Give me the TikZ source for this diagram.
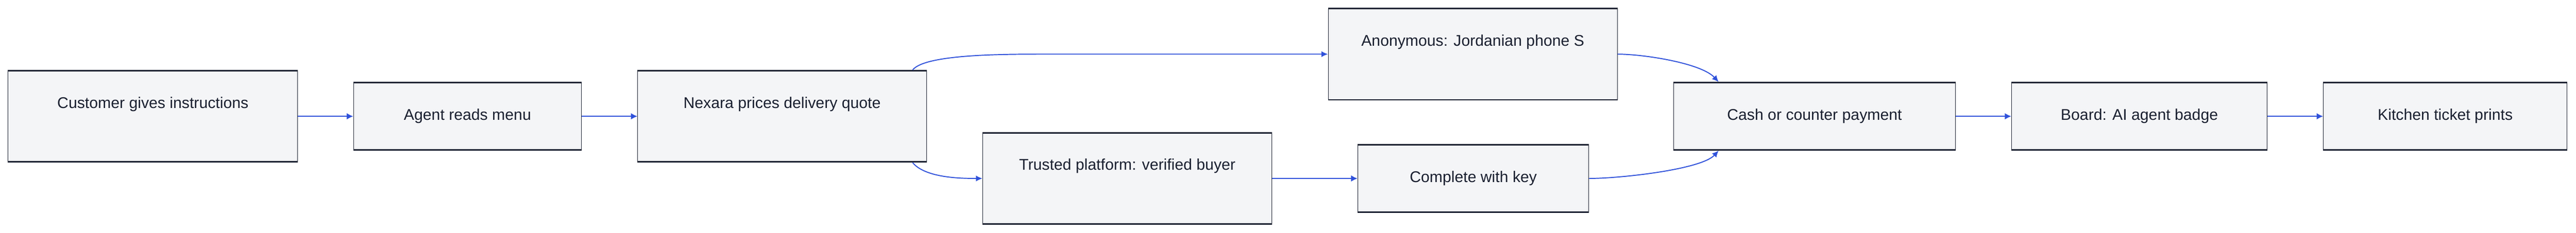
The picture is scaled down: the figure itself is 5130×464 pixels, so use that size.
\documentclass[tikz,border=0pt]{standalone}
\usepackage{fontspec}
\setmainfont{Liberation Sans}
\usetikzlibrary{arrows.meta}
\definecolor{boxfill}{HTML}{F4F5F7}
\definecolor{boxline}{HTML}{1A2030}
\definecolor{arr}{HTML}{2F51DA}
\begin{document}
\begin{tikzpicture}[x=1pt,y=-1pt,
  box/.style={fill=boxfill,draw=boxline,line width=1pt,inner sep=0pt,
    path picture={\draw[boxline,line width=5pt] (path picture bounding box.north west) -- (path picture bounding box.north east) (path picture bounding box.south west) -- (path picture bounding box.south east);}},
  txt/.style={font=\fontsize{31}{36}\selectfont,text=boxline,inner sep=0pt},
  arr/.style={draw=arr,line width=2.5pt,-{Latex[length=13pt,width=13pt]}},
  carr/.style={draw=arr,line width=2pt,-{Latex[length=13pt,width=12pt]}}]
\useasboundingbox (0,0) rectangle (5130,464);
\node[box,minimum width=577pt,minimum height=184pt] (cust) at (304.5,232) {};
\node[box,minimum width=454pt,minimum height=136pt] (agent) at (931,232) {};
\node[box,minimum width=575pt,minimum height=184pt] (nexara) at (1557.5,232) {};
\node[box,minimum width=576pt,minimum height=184pt] (anon) at (2933,108) {};
\node[box,minimum width=576pt,minimum height=184pt] (trusted) at (2245,356) {};
\node[box,minimum width=460pt,minimum height=136pt] (complete) at (2934,356) {};
\node[box,minimum width=561pt,minimum height=136pt] (cash) at (3613.5,232) {};
\node[box,minimum width=509pt,minimum height=136pt] (board) at (4260.5,232) {};
\node[box,minimum width=485pt,minimum height=136pt] (kitchen) at (4869.5,232) {};
\node[txt] (tcust) at ([yshift=-68pt]cust.north) {Customer gives instructions};
\node[txt] (tagent) at ([yshift=-68pt]agent.north) {Agent reads menu};
\node[txt] (tnexara) at ([yshift=-68pt]nexara.north) {Nexara prices delivery quote};
\node[txt] (tanon) at ([yshift=-68pt]anon.north) {Anonymous: Jordanian phone S};
\node[txt] (ttrusted) at ([yshift=-68pt]trusted.north) {Trusted platform: verified buyer};
\node[txt] (tcomplete) at ([yshift=-68pt]complete.north) {Complete with key};
\node[txt] (tcash) at ([yshift=-68pt]cash.north) {Cash or counter payment};
\node[txt] (tboard) at ([yshift=-68pt]board.north) {Board: AI agent badge};
\node[txt] (tkitchen) at ([yshift=-68pt]kitchen.north) {Kitchen ticket prints};
\draw[arr] (cust.east) -- (agent.west);
\draw[arr] (agent.east) -- (nexara.west);
\draw[carr] ([xshift=-28pt]nexara.north east) .. controls +(25pt,32pt) and +(-80pt,0pt) .. ([xshift=-560pt]anon.west) -- (anon.west);
\draw[carr] ([xshift=-28pt]nexara.south east) .. controls +(25pt,-30pt) and +(-45pt,0pt) .. (trusted.west);
\draw[arr] (trusted.east) -- (complete.west);
\draw[carr] (anon.east) .. controls +(50pt,0pt) and +(-35pt,38pt) .. ([xshift=90pt]cash.north west);
\draw[carr] (complete.east) .. controls +(60pt,0pt) and +(-35pt,-38pt) .. ([xshift=90pt]cash.south west);
\draw[arr] (cash.east) -- (board.west);
\draw[arr] (board.east) -- (kitchen.west);
\end{tikzpicture}
\end{document}
